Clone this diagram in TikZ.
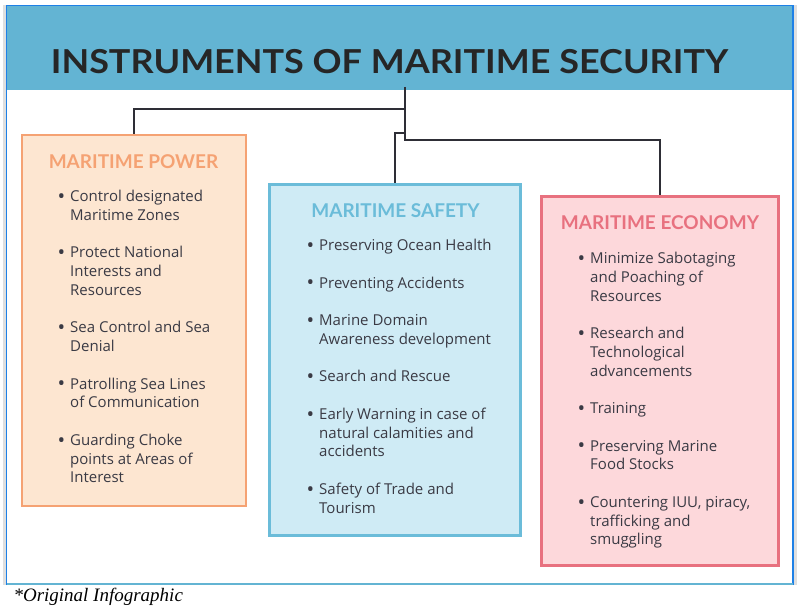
\documentclass[tikz,border=0pt]{standalone}
\usepackage{fontspec}
\setmainfont{Lato}
\newfontfamily\bodyfont{Open Sans}
\newfontfamily\notefont{Liberation Serif}
\usepackage{tikz}

\definecolor{bandblue}{HTML}{63B4D3}
\definecolor{frameblue}{HTML}{1E80E6}
\definecolor{powerline}{HTML}{F5A273}
\definecolor{powerfill}{HTML}{FDE6D1}
\definecolor{safetyline}{HTML}{6BBCD9}
\definecolor{safetyfill}{HTML}{CFEBF5}
\definecolor{economyline}{HTML}{E8717F}
\definecolor{economyfill}{HTML}{FDD8DB}
\definecolor{inktext}{HTML}{3A3A44}
\definecolor{wireline}{HTML}{2E2E36}

\newcommand{\bul}[1]{\makebox[13pt][l]{\hspace*{0.5pt}\raisebox{-1.9pt}{\scalebox{1.35}{\textbullet}}}#1}
\newcommand{\cnt}[1]{\hspace*{13pt}#1}

\begin{document}
\begin{tikzpicture}[x=1pt,y=-1pt,
    box/.style={draw, line width=2.4pt, inner sep=0pt},
    head/.style={font=\fontsize{19}{22}\selectfont\bfseries},
    itemlist/.style={anchor=north west, align=left, inner sep=0pt,
      text=inktext, font=\bodyfont\fontsize{15}{18.75}\selectfont},
    wire/.style={draw=wireline, line width=1.5pt}]

        \useasboundingbox (0,0) rectangle (801,607);

        % frame and title band
        \fill[gray!25] (3,5) rectangle (797,585);
        \fill[white] (6.5,5.5) rectangle (793,584);
        \fill[bandblue] (6.5,5.5) rectangle (793,90);
        \draw[frameblue, line width=1.2pt] (6.5,585) -- (6.5,5.5) -- (793,5.5) -- (793,585);
        \draw[bandblue, line width=2.5pt] (6.5,584) -- (793,584);

        \node[text=black!85, font=\fontsize{33}{36}\selectfont\bfseries] (title) at (389.5,62)
          {\scalebox{1.09}[1]{INSTRUMENTS OF MARITIME SECURITY}};

        \begin{scope}[every node/.style={box}]
          \node[draw=powerline, fill=powerfill, minimum width=224, minimum height=371] (power) at (134,320.5) {};
          \node[draw=safetyline, fill=safetyfill, minimum width=251, minimum height=351] (safety) at (395,360) {};
          \node[draw=economyline, fill=economyfill, minimum width=237, minimum height=369] (economy) at (660,381) {};
        \end{scope}

        \coordinate (root) at (405,87);
        \coordinate (j1) at (405,109);
        \coordinate (j2) at (405,133);
        \coordinate (j3) at (405,140);

        \path[wire] (root) -- (j3) -| (economy.north);
        \path[wire] (j1) -| (power.north);
        \path[wire] (j2) -| (safety.north);

        \node[head, text=powerline] (powerhead) at (133.5,162) {MARITIME POWER};
        \node[head, text=safetyline] (safetyhead) at (395.5,211) {MARITIME SAFETY};
        \node[head, text=economyline] (economyhead) at (660,223) {MARITIME ECONOMY};

        \node[itemlist] (powerlist) at (57,190) {%
          \bul{Control designated}\\ \cnt{Maritime Zones}\\[18.75pt]
          \bul{Protect National}\\ \cnt{Interests and}\\ \cnt{Resources}\\[18.75pt]
          \bul{Sea Control and Sea}\\ \cnt{Denial}\\[18.75pt]
          \bul{Patrolling Sea Lines}\\ \cnt{of Communication}\\[18.75pt]
          \bul{Guarding Choke}\\ \cnt{points at Areas of}\\ \cnt{Interest}};

        \node[itemlist] (safetylist) at (306,239) {%
          \bul{Preserving Ocean Health}\\[18.75pt]
          \bul{Preventing Accidents}\\[18.75pt]
          \bul{Marine Domain}\\ \cnt{Awareness development}\\[18.75pt]
          \bul{Search and Rescue}\\[18.75pt]
          \bul{Early Warning in case of}\\ \cnt{natural calamities and}\\ \cnt{accidents}\\[18.75pt]
          \bul{Safety of Trade and}\\ \cnt{Tourism}};

        \node[itemlist] (economylist) at (577,252) {%
          \bul{Minimize Sabotaging}\\ \cnt{and Poaching of}\\ \cnt{Resources}\\[18.75pt]
          \bul{Research and}\\ \cnt{Technological}\\ \cnt{advancements}\\[18.75pt]
          \bul{Training}\\[18.75pt]
          \bul{Preserving Marine}\\ \cnt{Food Stocks}\\[18.75pt]
          \bul{Countering IUU, piracy,}\\ \cnt{trafficking and}\\ \cnt{smuggling}};

        \node[anchor=west, font=\notefont\itshape\fontsize{19}{22}\selectfont] (note) at (10,597)
          {*Original Infographic};

      \end{tikzpicture}
\end{document}
